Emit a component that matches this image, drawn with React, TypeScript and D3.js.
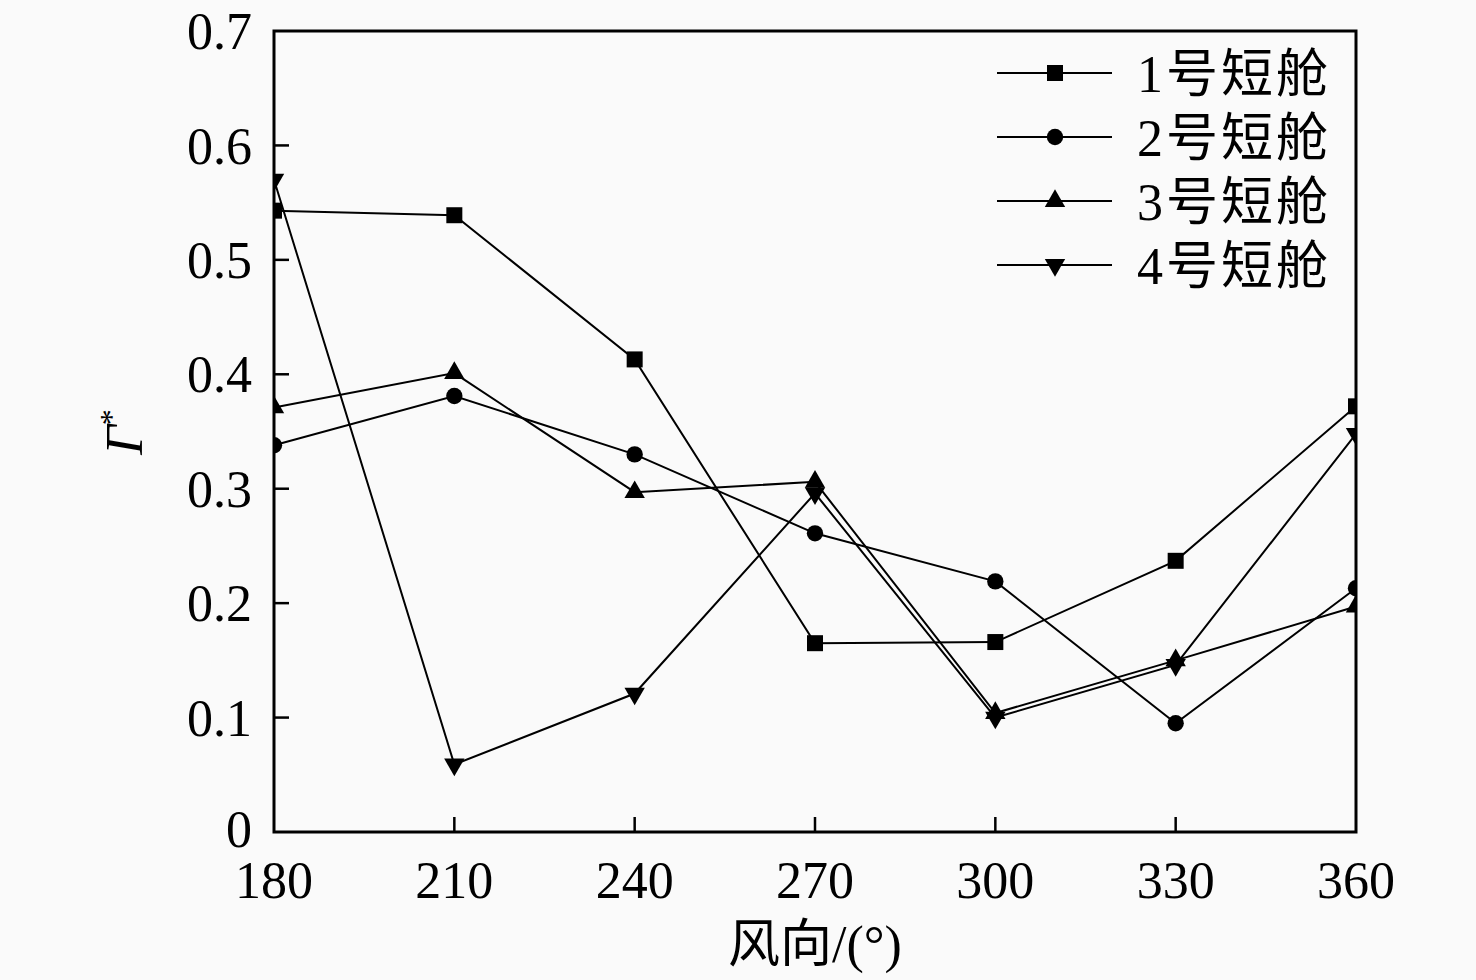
import React, { useEffect, useRef } from 'react';
import * as d3 from 'd3';

// wind direction (degrees)
const directions = [180, 210, 240, 270, 300, 330, 360];

// Γ* for each nacelle
const nacelle1 = [0.543, 0.539, 0.413, 0.165, 0.166, 0.237, 0.372];
const nacelle2 = [0.338, 0.381, 0.33, 0.261, 0.219, 0.095, 0.213];
const nacelle3 = [0.371, 0.401, 0.297, 0.306, 0.104, 0.15, 0.197];
const nacelle4 = [0.57, 0.059, 0.121, 0.296, 0.1, 0.146, 0.348];

const seriesNames = ['1号短舱', '2号短舱', '3号短舱', '4号短舱'];
const yTicks = [0, 0.1, 0.2, 0.3, 0.4, 0.5, 0.6, 0.7];
const yTickLabels = ['0', '0.1', '0.2', '0.3', '0.4', '0.5', '0.6', '0.7'];

const WIDTH = 1476;
const HEIGHT = 980;
const margin = { top: 31, right: 120, bottom: 148, left: 274 };

const serif = '"Liberation Serif", "Times New Roman", "Noto Sans CJK SC", serif';

type Marker = 'square' | 'circle' | 'up' | 'down';
const markers: Marker[] = ['square', 'circle', 'up', 'down'];

const symbolPath = (m: Marker) => {
  if (m === 'square') return d3.symbol(d3.symbolSquare, 256)()!;
  if (m === 'circle') return d3.symbol(d3.symbolCircle, 210)()!;
  return d3.symbol(d3.symbolTriangle, 180)()!;
};

const App: React.FC = () => {
  const svgRef = useRef<SVGSVGElement>(null);

  useEffect(() => {
    document.body.style.margin = '0';
    const svg = d3.select(svgRef.current);
    svg.selectAll('*').remove();

    const innerW = WIDTH - margin.left - margin.right;
    const innerH = HEIGHT - margin.top - margin.bottom;

    const x = d3.scaleLinear().domain([180, 360]).range([0, innerW]);
    const y = d3.scaleLinear().domain([0, 0.7]).range([innerH, 0]);

    svg.append('rect').attr('width', WIDTH).attr('height', HEIGHT).attr('fill', '#fafafa');

    const g = svg.append('g').attr('transform', `translate(${margin.left},${margin.top})`);

    svg
      .append('defs')
      .append('clipPath')
      .attr('id', 'plot-clip')
      .append('rect')
      .attr('width', innerW)
      .attr('height', innerH);

    // ticks inward, left and bottom only
    g.selectAll('.ytick')
      .data(yTicks.slice(1, -1))
      .enter()
      .append('line')
      .attr('x1', 0)
      .attr('x2', 15)
      .attr('y1', d => y(d))
      .attr('y2', d => y(d))
      .attr('stroke', '#000')
      .attr('stroke-width', 2.5);

    g.selectAll('.xtick')
      .data(directions.slice(1, -1))
      .enter()
      .append('line')
      .attr('x1', d => x(d))
      .attr('x2', d => x(d))
      .attr('y1', innerH)
      .attr('y2', innerH - 15)
      .attr('stroke', '#000')
      .attr('stroke-width', 2.5);

    // tick labels
    g.selectAll('.ylabel')
      .data(yTicks)
      .enter()
      .append('text')
      .attr('x', -22)
      .attr('y', d => (d === 0 ? y(d) - 3 : y(d)))
      .attr('dy', '0.35em')
      .attr('text-anchor', 'end')
      .style('font-family', serif)
      .style('font-size', '52px')
      .text((_, i) => yTickLabels[i]);

    g.selectAll('.xlabel')
      .data(directions)
      .enter()
      .append('text')
      .attr('x', d => x(d))
      .attr('y', innerH + 66)
      .attr('text-anchor', 'middle')
      .style('font-family', serif)
      .style('font-size', '52px')
      .text(d => String(d));

    // axis titles
    svg
      .append('text')
      .attr('x', margin.left + innerW / 2)
      .attr('y', 962)
      .attr('text-anchor', 'middle')
      .style('font-family', serif)
      .style('font-size', '52px')
      .text('风向/(°)');

    const yTitle = svg
      .append('text')
      .attr('transform', `translate(142, 432) rotate(-90)`)
      .attr('text-anchor', 'middle')
      .style('font-family', serif)
      .style('font-size', '52px');
    yTitle.append('tspan').style('font-style', 'italic').text('Γ');
    yTitle.append('tspan').attr('dy', -20).style('font-size', '32px').text('*');

    // series
    const allSeries = [nacelle1, nacelle2, nacelle3, nacelle4];
    const line = d3
      .line<number>()
      .x((_, i) => x(directions[i]))
      .y(d => y(d));

    allSeries.forEach(vals => {
      g.append('path')
        .attr('d', line(vals)!)
        .attr('fill', 'none')
        .attr('stroke', '#000')
        .attr('stroke-width', 2);
    });

    const markLayer = g.append('g').attr('clip-path', 'url(#plot-clip)');
    allSeries.forEach((vals, s) => {
      markLayer
        .selectAll(null)
        .data(vals)
        .enter()
        .append('path')
        .attr('d', symbolPath(markers[s]))
        .attr(
          'transform',
          (d, i) =>
            `translate(${x(directions[i])},${y(d)})${markers[s] === 'down' ? ' rotate(180)' : ''}`
        )
        .attr('fill', '#000');
    });

    // frame
    g.append('rect')
      .attr('width', innerW)
      .attr('height', innerH)
      .attr('fill', 'none')
      .attr('stroke', '#000')
      .attr('stroke-width', 3);

    // legend
    const legend = svg.append('g').attr('transform', 'translate(997, 73)');
    seriesNames.forEach((name, i) => {
      const row = legend.append('g').attr('transform', `translate(0, ${i * 64})`);
      row
        .append('line')
        .attr('x1', 0)
        .attr('x2', 115)
        .attr('stroke', '#000')
        .attr('stroke-width', 2.2);
      row
        .append('path')
        .attr('d', symbolPath(markers[i]))
        .attr('transform', `translate(58,0)${markers[i] === 'down' ? ' rotate(180)' : ''}`)
        .attr('fill', '#000');
      row
        .append('text')
        .attr('x', 140)
        .attr('dy', '0.36em')
        .style('font-family', serif)
        .style('font-size', '52px')
        .style('letter-spacing', '3px')
        .text(name);
    });
  }, []);

  return <svg ref={svgRef} width={WIDTH} height={HEIGHT} style={{ display: 'block' }} />;
};

export default App;
